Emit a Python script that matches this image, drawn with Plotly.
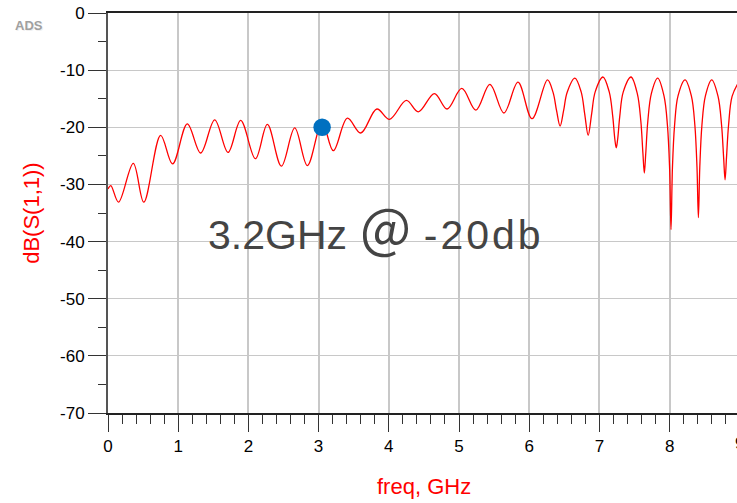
import plotly.graph_objects as go

# ---- data ----
freq_ghz = [
    0.00, 0.04, 0.15, 0.36, 0.51, 0.75, 0.92, 1.13, 1.32, 1.52, 1.71, 1.89,
    2.10, 2.27, 2.47, 2.66, 2.84, 3.05, 3.21, 3.41, 3.60, 3.83, 4.01, 4.25,
    4.42, 4.65, 4.83, 5.04, 5.24, 5.44, 5.64, 5.84, 6.04, 6.26,
    6.34, 6.39, 6.44, 6.49, 6.54, 6.65,
    6.74, 6.79, 6.84, 6.89, 6.94, 7.05,
    7.14, 7.19, 7.22, 7.24, 7.26, 7.29, 7.34, 7.45,
    7.54, 7.59, 7.62, 7.64, 7.66, 7.69, 7.74, 7.83,
    7.92, 7.97, 8.00, 8.02, 8.04, 8.07, 8.12, 8.22,
    8.31, 8.36, 8.39, 8.41, 8.43, 8.46, 8.51, 8.60,
    8.69, 8.74, 8.77, 8.79, 8.81, 8.84, 8.89, 8.98,
]
s11_db = [
    -30.8, -30.2, -33.1, -26.3, -33.1, -21.4, -26.4, -19.4, -24.5, -18.7, -24.4, -18.8,
    -25.5, -19.5, -26.8, -20.1, -26.7, -19.2, -24.1, -18.4, -21.0, -16.8, -18.6, -15.3,
    -17.3, -14.1, -16.8, -13.2, -17.0, -12.5, -17.5, -12.1, -18.5, -11.7,
    -13.9, -17.1, -19.8, -17.1, -13.9, -11.4,
    -13.8, -17.6, -21.4, -17.6, -13.8, -11.2,
    -13.8, -18.1, -22.1, -23.6, -22.1, -18.1, -13.8, -11.2,
    -14.1, -18.9, -24.6, -28.0, -24.6, -18.9, -14.1, -11.4,
    -14.5, -19.8, -27.2, -37.9, -27.2, -19.8, -14.5, -11.7,
    -14.5, -19.7, -27.0, -35.8, -27.0, -19.7, -14.5, -11.7,
    -14.6, -19.6, -25.4, -29.2, -25.4, -19.6, -14.6, -12.2,
]
marker_freq = [3.05]
marker_db = [-20.0]

x_ticks = [0, 1, 2, 3, 4, 5, 6, 7, 8]
x_labels = ["0", "1", "2", "3", "4", "5", "6", "7", "8"]
y_ticks = [0, -10, -20, -30, -40, -50, -60, -70]
y_labels = ["0", "-10", "-20", "-30", "-40", "-50", "-60", "-70"]

FONT = "Liberation Sans, Arial, Noto Sans CJK SC, sans-serif"

fig = go.Figure()
fig.add_trace(go.Scatter(
    x=freq_ghz, y=s11_db, mode="lines",
    line=dict(color="#ff0000", width=1.3, shape="spline", smoothing=1.0),
    hoverinfo="skip",
))
fig.add_trace(go.Scatter(
    x=marker_freq, y=marker_db, mode="markers",
    marker=dict(color="#0070c0", size=17.5, line=dict(width=0)),
    hoverinfo="skip",
))

fig.update_layout(
    width=737, height=503,
    margin=dict(l=108, r=0, t=13, b=90),
    paper_bgcolor="white", plot_bgcolor="white",
    showlegend=False,
    font=dict(family=FONT, size=17, color="black"),
)

fig.update_xaxes(
    range=[0, 8.96],
    tickmode="array", tickvals=x_ticks, ticktext=x_labels,
    ticks="outside", ticklen=17, tickwidth=1.3, tickcolor="#333333",
    showline=True, linecolor="#222222", linewidth=2, mirror=True,
    showgrid=True, gridcolor="#c8c8c8", gridwidth=1.5, zeroline=False,
    tickfont=dict(size=17, color="black"),
    minor=dict(tickmode="linear", tick0=0, dtick=0.2, ticks="outside",
               ticklen=9, tickwidth=1.3, tickcolor="#333333", showgrid=False),
)
fig.update_yaxes(
    range=[-70, 0],
    tickmode="array", tickvals=y_ticks, ticktext=y_labels,
    ticks="outside", ticklen=18, tickwidth=1.3, tickcolor="#333333",
    showline=True, linecolor="#555555", linewidth=2, mirror=False,
    showgrid=True, gridcolor="#c8c8c8", gridwidth=1.3, zeroline=False,
    tickfont=dict(size=17, color="black"),
    minor=dict(tickmode="linear", tick0=0, dtick=5, ticks="outside",
               ticklen=8, tickwidth=1.3, tickcolor="#333333", showgrid=False),
)

label_text = ("3.2GHz "
              "<span style='font-family:Noto Sans CJK SC;font-size:54px;baseline-shift:-5px'>＠</span>"
              " <span style='letter-spacing:3px'>-20db</span>")

annotations = [
    dict(text=label_text, x=1.395, y=-38.1, xref="x", yref="y",
         xanchor="left", yanchor="middle", showarrow=False,
         font=dict(family=FONT, size=41, color="#444444")),
    dict(text="<b>ADS</b>", x=-0.1495, y=0.9665, xref="paper", yref="paper",
         xanchor="left", yanchor="middle", showarrow=False,
         font=dict(family=FONT, size=13, color="#f0f0f0")),
    dict(text="<b>ADS</b>", x=-0.151, y=0.968, xref="paper", yref="paper",
         xanchor="left", yanchor="middle", showarrow=False,
         font=dict(family=FONT, size=13, color="#a0a0a0")),
    dict(text="dB(S(1,1))", x=-0.1208, y=0.498, xref="paper", yref="paper",
         xanchor="center", yanchor="middle", textangle=-90, showarrow=False,
         font=dict(family=FONT, size=22, color="#ff0000")),
    dict(text="freq, GHz", x=0.502, y=-0.184, xref="paper", yref="paper",
         xanchor="center", yanchor="middle", showarrow=False,
         font=dict(family=FONT, size=22, color="#ff0000")),
    dict(text="9", x=1.0041, y=0, xref="paper", yref="paper",
         xanchor="center", yanchor="middle", yshift=-30.5, showarrow=False,
         font=dict(family=FONT, size=17, color="black")),
]
fig.update_layout(annotations=annotations)

fig.write_html(
    "out.html",
    config={"displayModeBar": False},
    post_script="document.body.style.margin='0px';document.body.style.overflow='hidden';",
)
